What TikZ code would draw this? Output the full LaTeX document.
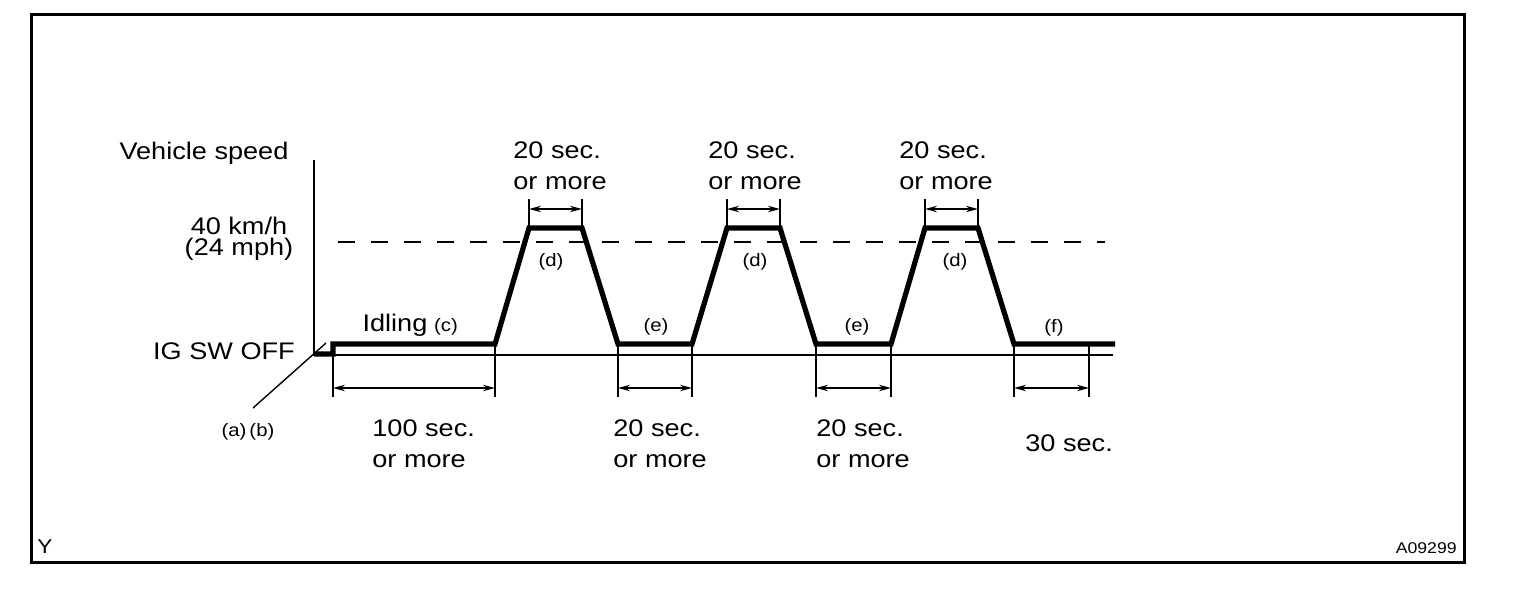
\documentclass[tikz,border=0pt]{standalone}
\usepackage{fontspec}
\setmainfont{Liberation Sans}[FakeStretch=1.13]
\usepackage{tikz}
\usetikzlibrary{arrows.meta,positioning}

\begin{document}
\begin{tikzpicture}[
  x=0.5pt, y=-0.5pt,
  lbl/.style={inner sep=0pt, align=left, font=\fontsize{12}{15.5}\selectfont},
  tag/.style={inner sep=0pt, font=\fontsize{9}{11}\selectfont},
  trace/.style={line width=2.6pt, line join=miter},
  axisline/.style={line width=0.7pt},
  refline/.style={line width=0.6pt, dash pattern=on 8.5pt off 8pt},
  dimline/.style={line width=0.7pt, <->},
  >={Stealth[length=6pt,width=3.2pt]}]

  \useasboundingbox (0,0) rectangle (1520,600);
  \draw[line width=1.5pt] (31.5,14.5) rectangle (1464.5,562);

  % axes and 40 km/h level
  \coordinate (o) at (314,355);
  \coordinate (ytop) at (314,160);
  \coordinate (xend) at (1113,355);
  \coordinate (lv0) at (338,242);
  \coordinate (lv1) at (1105,242);
  \draw[axisline] (ytop) -- (o) -- (xend);
  \draw[refline] (lv0) -- (lv1);

  % speed trace
  \coordinate (s0) at (314,354);
  \coordinate (s1) at (333,354);
  \coordinate (s2) at (333,344);
  \coordinate (r1) at (495,344);
  \coordinate (t1a) at (529,228);
  \coordinate (t1b) at (582,228);
  \coordinate (f1) at (618,344);
  \coordinate (r2) at (692,344);
  \coordinate (t2a) at (727,228);
  \coordinate (t2b) at (780,228);
  \coordinate (f2) at (816,344);
  \coordinate (r3) at (891,344);
  \coordinate (t3a) at (925,228);
  \coordinate (t3b) at (978,228);
  \coordinate (f3) at (1014,344);
  \coordinate (stop) at (1089,344);
  \coordinate (tend) at (1115,344);
  \draw[trace] (s0) -- (s1) -- (s2) -- (r1) -- (t1a) -- (t1b) -- (f1) -- (r2) -- (t2a) -- (t2b)
    -- (f2) -- (r3) -- (t3a) -- (t3b) -- (f3) -- (tend);

  % dimensions above
  \coordinate (up) at (0,199);
  \coordinate (uarr) at (0,209);
  \foreach \p in {t1a,t1b,t2a,t2b,t3a,t3b}
    \draw[axisline] (\p) -- (\p |- up);
  \draw[dimline] (t1a |- uarr) -- (t1b |- uarr);
  \draw[dimline] (t2a |- uarr) -- (t2b |- uarr);
  \draw[dimline] (t3a |- uarr) -- (t3b |- uarr);

  % dimensions below
  \coordinate (low) at (0,397);
  \coordinate (larr) at (0,388);
  \foreach \p in {s2,r1,f1,r2,f2,r3,f3,stop}
    \draw[axisline] (\p) -- (\p |- low);
  \draw[dimline] (s2 |- larr) -- (r1 |- larr);
  \draw[dimline] (f1 |- larr) -- (r2 |- larr);
  \draw[dimline] (f2 |- larr) -- (r3 |- larr);
  \draw[dimline] (f3 |- larr) -- (stop |- larr);

  % labels
  \node[lbl] (vs) at (204,153) {Vehicle speed};
  \node[lbl, align=center, font=\fontsize{12}{10.5}\selectfont] (kmh) at (239,239) {40 km/h\\(24 mph)};
  \node[lbl] (ig) at (224,351) {IG SW OFF};
  \node[lbl] (idl) at (395,325) {Idling};
  \node[tag, anchor=base west] (c) at ([xshift=3pt]idl.base east) {(c)};

  \node[lbl, anchor=west] (up1) at (513,165.5) {20 sec.\\or more};
  \node[lbl, anchor=west] (up2) at (708,165.5) {20 sec.\\or more};
  \node[lbl, anchor=west] (up3) at (899,165.5) {20 sec.\\or more};
  \node[lbl, anchor=west] (lo1) at (372,444) {100 sec.\\or more};
  \node[lbl, anchor=west] (lo2) at (613,444) {20 sec.\\or more};
  \node[lbl, anchor=west] (lo3) at (816,444) {20 sec.\\or more};
  \node[lbl, anchor=west] (lo4) at (1025,443) {30 sec.};

  \node[tag] (d1) at (551,262) {(d)};
  \node[tag] (d2) at (755,262) {(d)};
  \node[tag] (d3) at (955,262) {(d)};
  \node[tag] (e1) at (656,327) {(e)};
  \node[tag] (e2) at (857,327) {(e)};
  \node[tag] (ff) at (1054,328) {(f)};

  % IG SW OFF leader
  \node[tag] (ab) at (248,432) {(a)\,(b)};
  \coordinate (ld0) at (253,408);
  \coordinate (ld1) at (326,343);
  \draw[axisline] (ld0) -- (ld1);

  \node[tag, font=\fontsize{10}{12}\selectfont] (yy) at (45,547) {Y};
  \node[tag, anchor=east, font=\fontsize{7.8}{9}\selectfont] (fig) at (1457,548) {A09299};
\end{tikzpicture}
\end{document}
